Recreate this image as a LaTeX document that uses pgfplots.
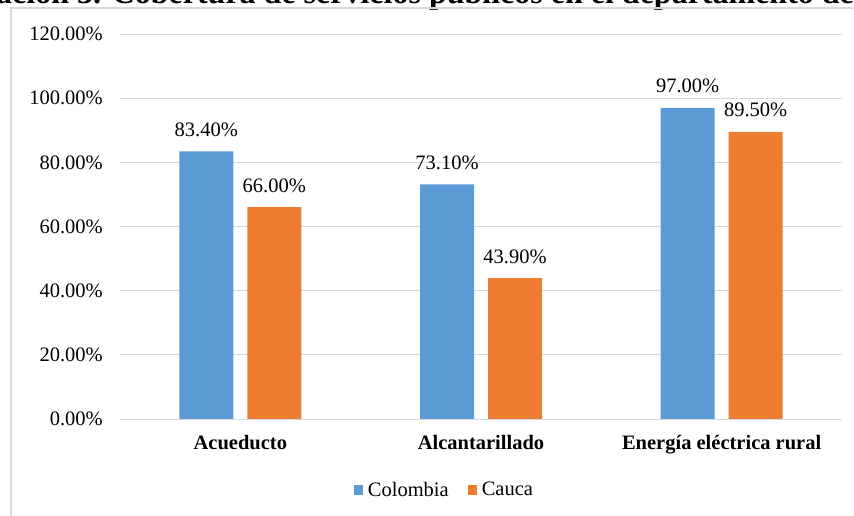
\documentclass[border=0pt]{standalone}
\usepackage{fontspec}
\setmainfont{Liberation Serif}
\usepackage{pgfplots}
\pgfplotsset{compat=1.18}
\definecolor{cblue}{HTML}{5B9BD5}
\definecolor{corange}{HTML}{ED7D31}
\definecolor{gridc}{HTML}{D9D9D9}
\newcommand{\fs}{\fontsize{20.5bp}{24bp}\selectfont}
\begin{document}
\begin{tikzpicture}
\useasboundingbox (0bp,0bp) rectangle (854bp,516bp);
\begin{scope}
\clip (0bp,0bp) rectangle (854bp,516bp);
\node[anchor=base west, inner sep=0pt, font=\fontsize{32bp}{37bp}\selectfont\bfseries] at (-4bp,512bp) {ación 3. Cobertura de servicios públicos en el departamento del Cauca};
\draw[gridc, line width=1.5bp] (11bp,-5bp) -- (11bp,508bp) -- (860bp,508bp);
\end{scope}
\begin{axis}[
  at={(120bp,97bp)}, anchor=south west, scale only axis,
  width=722bp, height=385bp,
  xmin=-0.5, xmax=2.5, ymin=0, ymax=120,
  ytick={0,20,...,120}, xtick={0,1,2},
  xticklabels={Acueducto,Alcantarillado,Energía eléctrica rural},
  axis line style={draw=none}, tick style={draw=none},
  major tick length=0pt,
  ymajorgrids, grid style={gridc, line width=0.9bp},
  ybar=14bp, bar width=54bp,
  yticklabel={\pgfmathprintnumber[fixed,fixed zerofill,precision=2,assume math mode=true]{\tick}\%},
  yticklabel style={font=\fs, anchor=east, inner sep=0pt, xshift=-17bp},
  xticklabel style={font=\fs\bfseries, anchor=base, inner sep=0pt, yshift=-31bp},
  nodes near coords={\pgfmathprintnumber[fixed,fixed zerofill,precision=2,assume math mode=true]{\pgfplotspointmeta}\%},
  nodes near coords style={font=\fs, anchor=base, inner sep=0pt, yshift=15bp, text=black},
  legend style={at={(0.448,-0.184)}, anchor=center, draw=none, fill=none,
    legend columns=2, font=\fs, nodes={inner sep=0pt},
    /tikz/every odd column/.append style={column sep=5bp},
    /tikz/every even column/.append style={column sep=19bp}},
  legend image code/.code={\fill[#1] (0bp,-5bp) rectangle (9bp,5bp);},
  clip=false,
]
\addplot[fill=cblue, draw=none] coordinates {(0,83.4) (1,73.1) (2,97.0)};
\addplot[fill=corange, draw=none] coordinates {(0,66.0) (1,43.9) (2,89.5)};
\legend{Colombia,Cauca}
\end{axis}
\end{tikzpicture}
\end{document}
